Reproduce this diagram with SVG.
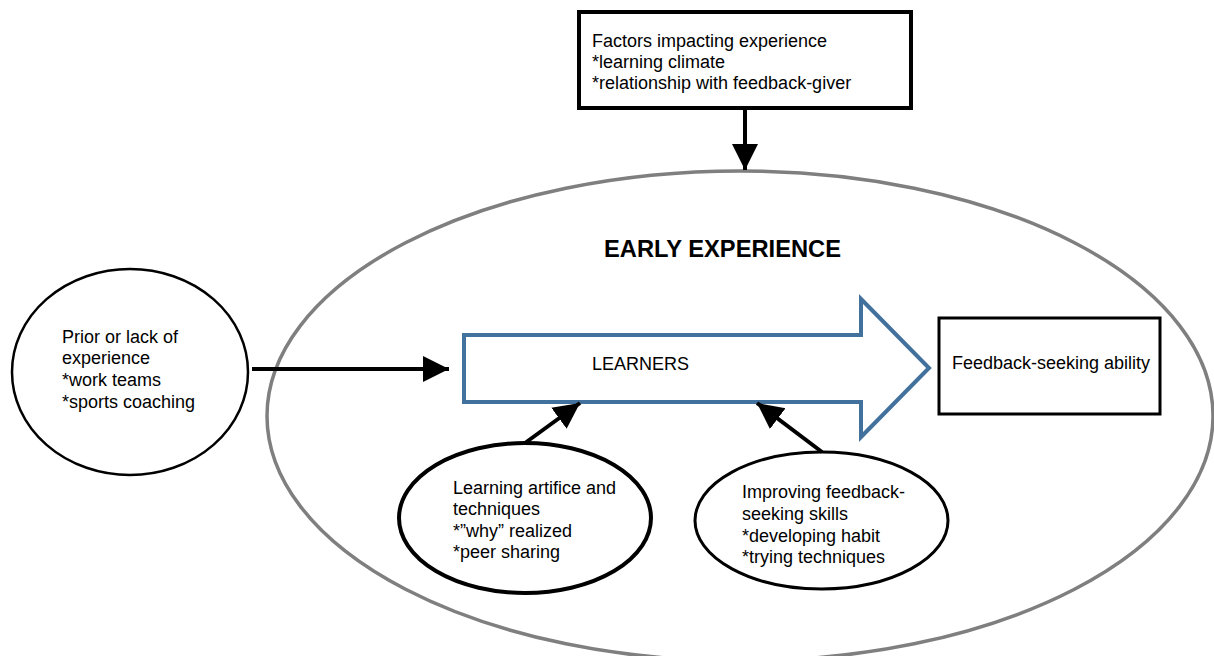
<svg xmlns="http://www.w3.org/2000/svg" width="1214" height="656" viewBox="0 0 1214 656">
  <style>
    text { font-family: "Liberation Sans", Arial, sans-serif; font-size: 18px; fill: #000; }
    .title { font-size: 23.7px; font-weight: bold; }
    .box { fill: #fff; stroke: #000; }
    .conn { stroke: #000; stroke-width: 4; fill: none; }
  </style>
  <defs>
    <marker id="head" markerUnits="userSpaceOnUse" markerWidth="28" markerHeight="28" viewBox="0 0 28 28" refX="26" refY="14" orient="auto">
      <path d="M0,1 L26,14 L0,27 Z" fill="#000"/>
    </marker>
  </defs>

  <g id="early-experience">
    <ellipse cx="740" cy="416" rx="473" ry="245" fill="#fff" stroke="#7f7f7f" stroke-width="3.5"/>
    <text class="title" x="604" y="257">EARLY EXPERIENCE</text>
  </g>

  <g id="factors">
    <rect class="box" x="579" y="12" width="332" height="96" stroke-width="4"/>
    <text x="592" y="47">Factors impacting experience</text>
    <text x="592" y="68">*learning climate</text>
    <text x="592" y="89">*relationship with feedback-giver</text>
  </g>

  <g id="prior-experience">
    <ellipse class="box" cx="130" cy="372" rx="118" ry="103" stroke-width="2.5"/>
    <text x="62" y="343">Prior or lack of</text>
    <text x="62" y="364">experience</text>
    <text x="62" y="386">*work teams</text>
    <text x="62" y="408">*sports coaching</text>
  </g>

  <g id="learners">
    <path d="M464,335 L861,335 L861,299 L929,368 L861,437 L861,402 L464,402 Z" fill="#fff" stroke="#41719c" stroke-width="4"/>
    <text x="592" y="370">LEARNERS</text>
  </g>

  <g id="feedback-ability">
    <rect class="box" x="939" y="318" width="221" height="96" stroke-width="3"/>
    <text x="952" y="369">Feedback-seeking ability</text>
  </g>

  <g id="learning-artifice">
    <ellipse class="box" cx="525" cy="518" rx="126" ry="75" stroke-width="4"/>
    <text x="453" y="494">Learning artifice and</text>
    <text x="453" y="515">techniques</text>
    <text x="453" y="537">*”why” realized</text>
    <text x="453" y="558">*peer sharing</text>
  </g>

  <g id="improving-skills">
    <ellipse class="box" cx="821.5" cy="520.5" rx="126.5" ry="68.5" stroke-width="3"/>
    <text x="742" y="498">Improving feedback-</text>
    <text x="742" y="520">seeking skills</text>
    <text x="742" y="542">*developing habit</text>
    <text x="742" y="563">*trying techniques</text>
  </g>

  <g id="connectors">
    <line class="conn" x1="745" y1="108" x2="745" y2="170" marker-end="url(#head)"/>
    <line class="conn" x1="252" y1="369" x2="449" y2="369" marker-end="url(#head)"/>
    <line class="conn" x1="525" y1="443" x2="580" y2="403" marker-end="url(#head)"/>
    <line class="conn" x1="822" y1="452" x2="757" y2="403" marker-end="url(#head)"/>
  </g>
</svg>
